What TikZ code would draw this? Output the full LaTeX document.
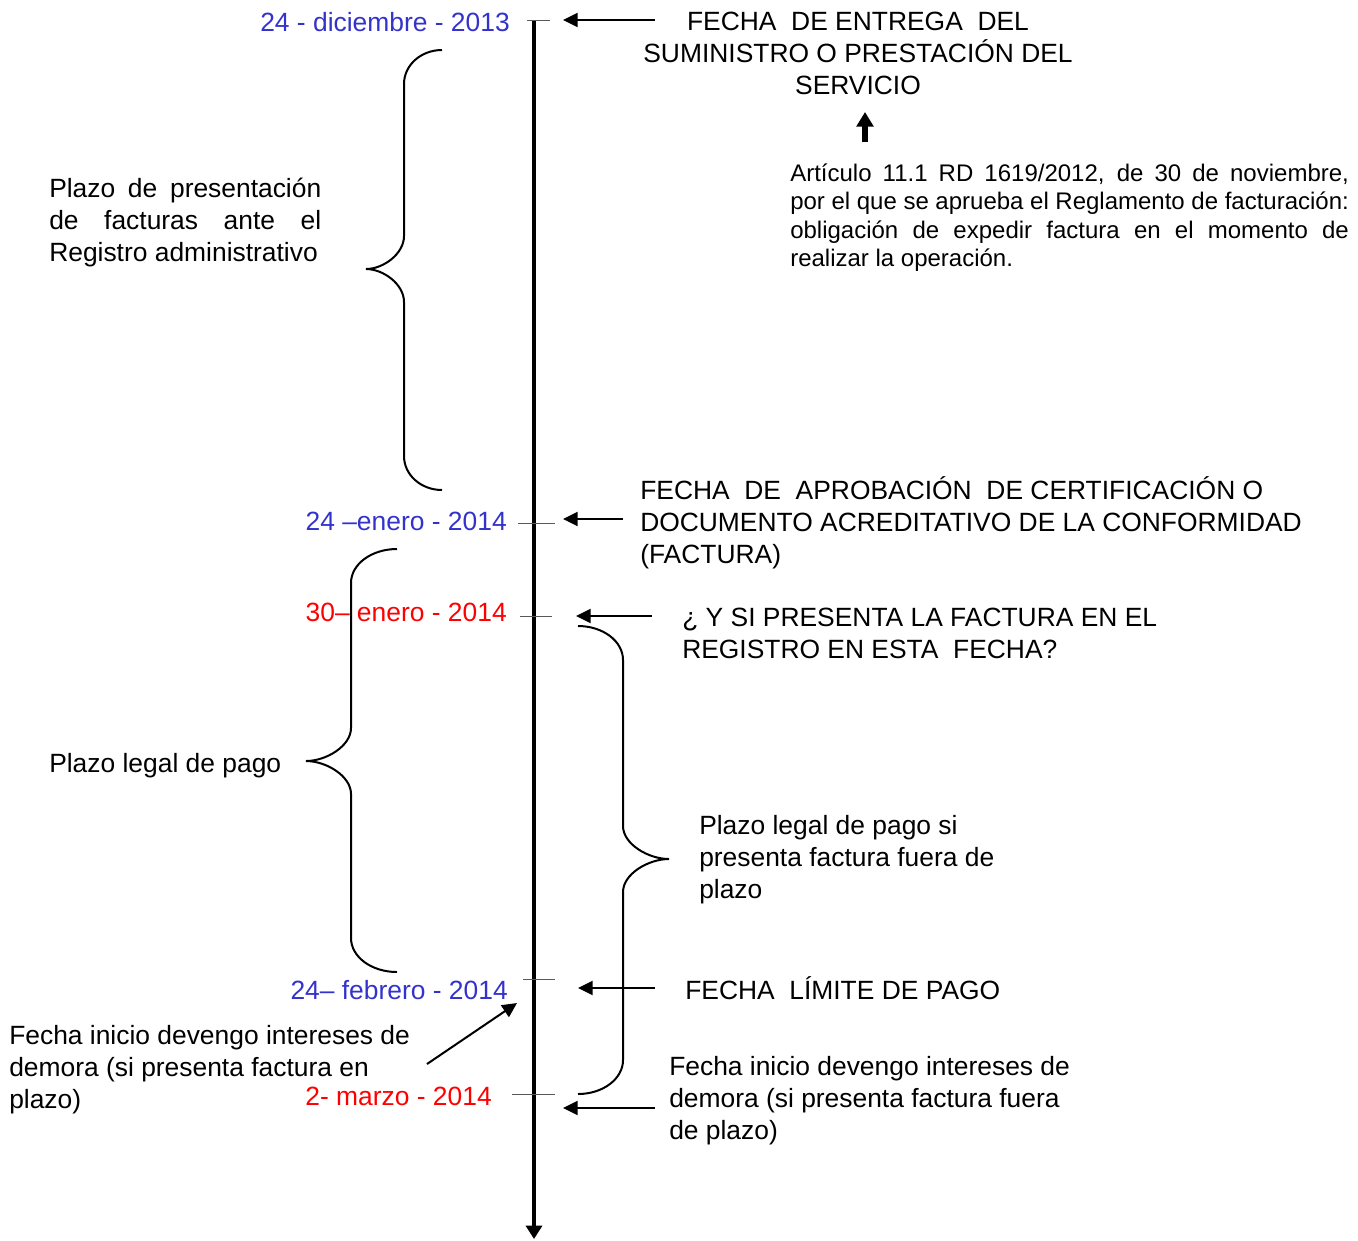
\documentclass[tikz,border=0pt]{standalone}
\usepackage{fontspec}
\setmainfont{Liberation Sans}
\usetikzlibrary{arrows.meta}
\definecolor{fechaazul}{RGB}{51,51,204}
\definecolor{fecharoja}{RGB}{255,0,0}
\tikzset{
  texto/.style={inner sep=0pt, font=\fontsize{19.8}{24}\selectfont, align=left},
  fecha/.style={texto, anchor=base east},
  nota/.style={inner sep=0pt, font=\fontsize{18}{21.4}\selectfont, text width=419pt, align=justify},
  flecha/.style={line width=1.5pt, -{Triangle[length=11pt,width=10.5pt]}},
  marca/.style={line width=0.75pt, black!65},
  llave/.style={line width=1.5pt},
  eje/.style={line width=2.4pt, -{Triangle[length=10pt,width=12pt]}}
}

\begin{document}
\begin{tikzpicture}[x=0.75pt,y=-0.75pt]
  \useasboundingbox (0,0) rectangle (1358,1240);

  % linea de tiempo
  \coordinate (inicio) at (534,20);
  \coordinate (fin) at (534,1239);
  \draw[eje] (inicio) -- (fin);
  \foreach \y/\a/\b in {20/527/550,523/518/555,616/520/552,979/523/555,1094/512/555}
    \draw[marca] (\a,\y) -- (\b,\y);

  % fechas
  \node[fecha, text=fechaazul] (dic24) at (510,31) {24 - diciembre - 2013};
  \node[fecha, text=fechaazul] (ene24) at (507,530) {24 –enero - 2014};
  \node[fecha, text=fecharoja] (ene30) at (507,621) {30– enero - 2014};
  \node[fecha, text=fechaazul] (feb24) at (508,999) {24– febrero - 2014};
  \node[fecha, text=fecharoja] (mar2) at (492,1105) {2- marzo - 2014};

  % textos de la derecha (base = ultima linea)
  \node[texto, align=center, anchor=base] (entrega) at (858,94)
    {FECHA\ \ DE ENTREGA\ \ DEL\\SUMINISTRO O PRESTACIÓN DEL\\SERVICIO};
  \node[nota, anchor=base west] (articulo) at (790,181)
    {Artículo 11.1 RD 1619/2012, de 30 de noviembre,\linebreak
     por el que se aprueba el Reglamento de facturación:\linebreak
     obligación de expedir factura en el momento de\linebreak
     realizar la operación.};
  \node[texto, anchor=base west] (aprobacion) at (640,563)
    {FECHA\ \ DE\ \ APROBACIÓN\ \ DE CERTIFICACIÓN O\\DOCUMENTO ACREDITATIVO DE LA CONFORMIDAD\\(FACTURA)};
  \node[texto, anchor=base west] (registro) at (682,658)
    {¿ Y SI PRESENTA LA FACTURA EN EL\\REGISTRO EN ESTA\ \ FECHA?};
  \node[texto, anchor=base west] (fuera) at (699,898)
    {Plazo legal de pago si\\presenta factura fuera de\\plazo};
  \node[texto, anchor=base west] (limite) at (685,999) {FECHA\ \ LÍMITE DE PAGO};
  \node[texto, anchor=base west] (demorafuera) at (669,1139)
    {Fecha inicio devengo intereses de\\demora (si presenta factura fuera\\de plazo)};

  % textos de la izquierda
  \node[texto, text width=204pt, align=justify, anchor=base west] (presentacion) at (49,197)
    {Plazo de presentación\linebreak de facturas ante el\linebreak Registro administrativo};
  \node[texto, anchor=base west] (legal) at (49,772) {Plazo legal de pago};
  \node[texto, anchor=base west] (demoraplazo) at (9,1108)
    {Fecha inicio devengo intereses de\\demora (si presenta factura en\\plazo)};

  % flechas
  \coordinate (a1) at (655,20);  \coordinate (b1) at (563,20);
  \coordinate (a2) at (623,519); \coordinate (b2) at (563,519);
  \coordinate (a3) at (652,616); \coordinate (b3) at (576,616);
  \coordinate (a4) at (655,988); \coordinate (b4) at (578,988);
  \coordinate (a5) at (655,1108); \coordinate (b5) at (563,1108);
  \coordinate (a6) at (427,1064); \coordinate (b6) at (517,1003);
  \coordinate (a7) at (865,142); \coordinate (b7) at (865,112);
  \foreach \n in {1,...,6}
    \draw[flecha] (a\n) -- (b\n);
  \draw[line width=4.2pt, -{Triangle[length=11pt,width=12.5pt]}] (a7) -- (b7);

  % llaves
  \foreach \xe/\xv/\xt/\ya/\ym/\yb in {442/404/366/50/269/490,397/351/306/549/761/972,578/623/669/626/859/1094}
    \draw[llave] (\xe,\ya) .. controls ({\xv+0.45*(\xe-\xv)},\ya) and (\xv,\ya+15) .. (\xv,\ya+34)
      -- (\xv,\ym-33) .. controls (\xv,\ym-15) and ({\xt+0.45*(\xv-\xt)},\ym) .. (\xt,\ym)
      .. controls ({\xt+0.45*(\xv-\xt)},\ym) and (\xv,\ym+15) .. (\xv,\ym+33)
      -- (\xv,\yb-34) .. controls (\xv,\yb-15) and ({\xv+0.45*(\xe-\xv)},\yb) .. (\xe,\yb);
\end{tikzpicture}
\end{document}
